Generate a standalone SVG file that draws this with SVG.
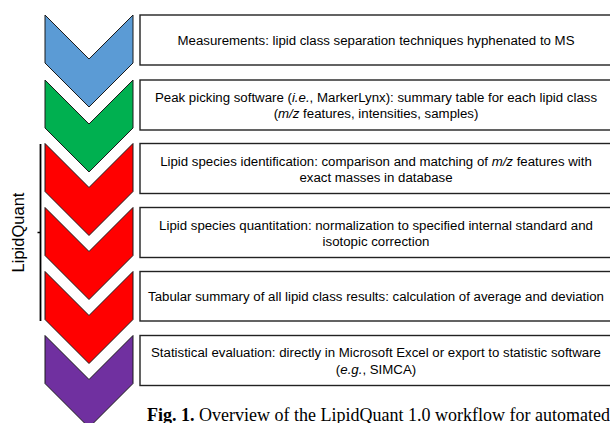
<svg xmlns="http://www.w3.org/2000/svg" width="610" height="423" viewBox="0 0 610 423">
  <style>
    .chev { stroke: #1a1a1a; stroke-width: 1; stroke-linejoin: miter; }
    .box { fill: #ffffff; stroke: #222222; stroke-width: 1.4; }
    .lbl { font-family: "Liberation Sans", Arial, sans-serif; font-size: 13.25px; fill: #000000; text-anchor: middle; }
    .side { font-family: "Liberation Sans", Arial, sans-serif; font-size: 16.5px; fill: #000000; text-anchor: middle; }
    .cap { font-family: "Liberation Serif", "Times New Roman", serif; font-size: 18px; fill: #000000; }
  </style>
  <defs>
    <!-- one chevron step, 88 wide, notch and point at 45 degrees -->
    <path id="chevron" d="M0,0 L44,44 L88,0 L88,48 L44,92 L0,48 Z"/>
  </defs>
  <rect width="610" height="423" fill="#ffffff"/>

  <!-- LipidQuant bracket -->
  <g id="lipidquant-bracket">
    <line x1="40.5" y1="144" x2="40.5" y2="321" stroke="#000000" stroke-width="1.8"/>
    <line x1="37.5" y1="232.5" x2="40.5" y2="232.5" stroke="#000000" stroke-width="1.5"/>
    <text class="side" transform="translate(24,232.5) rotate(-90)">LipidQuant</text>
  </g>

  <!-- workflow steps -->
  <g id="step-measurements">
    <use href="#chevron" x="45" y="15" class="chev" fill="#5B9BD5"/>
    <rect class="box" x="140" y="15" width="472" height="50"/>
    <text class="lbl" x="376" y="44.5">Measurements: lipid class separation techniques hyphenated to MS</text>
  </g>

  <g id="step-peak-picking">
    <use href="#chevron" x="45" y="80" class="chev" fill="#00B050"/>
    <rect class="box" x="140" y="80" width="472" height="50"/>
    <text class="lbl" x="376" y="102">Peak picking software (<tspan font-style="italic">i.e.</tspan>, MarkerLynx): summary table for each lipid class</text>
    <text class="lbl" x="376" y="118">(<tspan font-style="italic">m/z</tspan> features, intensities, samples)</text>
  </g>

  <g id="step-identification">
    <use href="#chevron" x="45" y="143.5" class="chev" fill="#FF0000"/>
    <rect class="box" x="140" y="143.5" width="472" height="50"/>
    <text class="lbl" x="376" y="166">Lipid species identification: comparison and matching of <tspan font-style="italic">m/z</tspan> features with</text>
    <text class="lbl" x="376" y="182">exact masses in database</text>
  </g>

  <g id="step-quantitation">
    <use href="#chevron" x="45" y="207.5" class="chev" fill="#FF0000"/>
    <rect class="box" x="140" y="207.5" width="472" height="50"/>
    <text class="lbl" x="376" y="230">Lipid species quantitation: normalization to specified internal standard and</text>
    <text class="lbl" x="376" y="246">isotopic correction</text>
  </g>

  <g id="step-summary">
    <use href="#chevron" x="45" y="271.5" class="chev" fill="#FF0000"/>
    <rect class="box" x="140" y="271.5" width="472" height="49.5"/>
    <text class="lbl" x="376" y="301">Tabular summary of all lipid class results: calculation of average and deviation</text>
  </g>

  <g id="step-statistics">
    <use href="#chevron" x="45" y="335.5" class="chev" fill="#7030A0"/>
    <rect class="box" x="140" y="335.5" width="472" height="50"/>
    <text class="lbl" x="376" y="357">Statistical evaluation: directly in Microsoft Excel or export to statistic software</text>
    <text class="lbl" x="376" y="374">(<tspan font-style="italic">e.g.</tspan>, SIMCA)</text>
  </g>

  <!-- steps follow one another top to bottom; no separate connector lines -->
  <g id="connectors"/>

  <text class="cap" x="147" y="420.5"><tspan font-weight="bold">Fig. 1.</tspan> Overview of the LipidQuant 1.0 workflow for automated</text>
</svg>
